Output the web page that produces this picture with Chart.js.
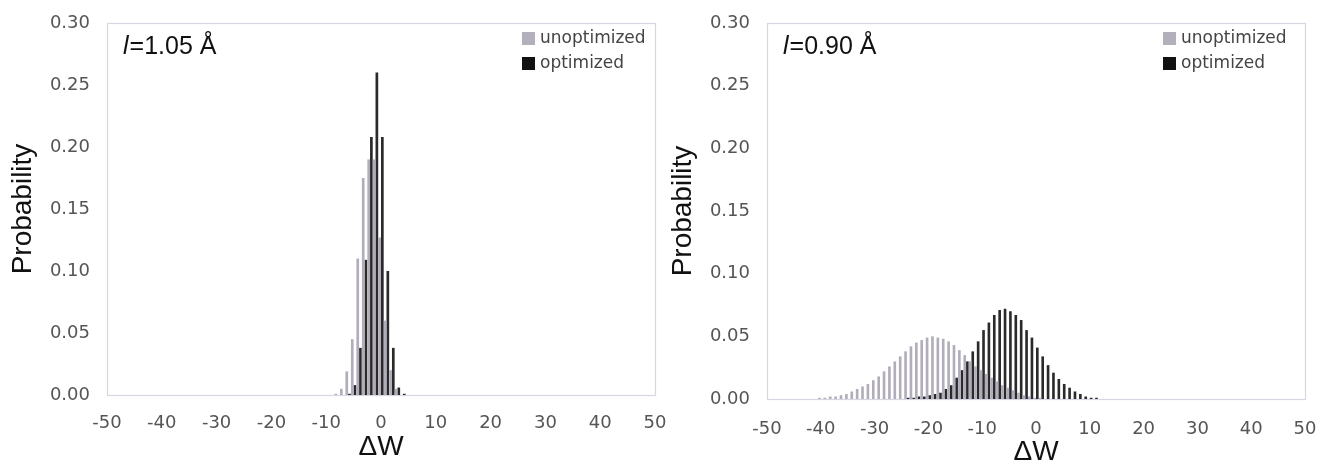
<!DOCTYPE html>
<html>
<head>
<meta charset="utf-8">
<script src="https://cdn.jsdelivr.net/npm/chart.js@4.4.1/dist/chart.umd.min.js"></script>
<style>
  body { margin: 0; background: #fff; }
  #wrap { position: relative; width: 1320px; height: 469px; overflow: hidden; background: #fff; }
  #c1 { position: absolute; left: 0; top: 0; }
  #c2 { position: absolute; left: 660px; top: 0; }
</style>
</head>
<body>
<div id="wrap">
  <canvas id="c1" width="680" height="469"></canvas>
  <canvas id="c2" width="660" height="469"></canvas>
</div>
<script>
// axis range / ticks
var xFirst = -50, xLast = 50;
var yMax = 0.30, yStep = 0.05;
var seriesNames = ['unoptimized', 'optimized'];
var panelNotes = ['=1.05 \u00C5', '=0.90 \u00C5'];

// l = 1.05 A panel, probability per 1-unit bin of dW
var leftUnoptStart = -8;
var leftUnopt = [0.001, 0.005, 0.019, 0.045, 0.110, 0.175, 0.190, 0.190, 0.127, 0.060, 0.020, 0.005];
var leftOptStart = -6;
var leftOpt = [0.001, 0.008, 0.038, 0.109, 0.208, 0.260, 0.208, 0.100, 0.038, 0.006, 0.001];

// l = 0.90 A panel
var rightUnoptStart = -40;
var rightUnopt = [0.001, 0.001, 0.002, 0.002, 0.003, 0.004, 0.006, 0.008, 0.010, 0.012,
                  0.015, 0.018, 0.022, 0.026, 0.030, 0.034, 0.038, 0.042, 0.045, 0.047,
                  0.049, 0.050, 0.049, 0.048, 0.046, 0.043, 0.039, 0.035, 0.030, 0.026,
                  0.023, 0.020, 0.017, 0.014, 0.011, 0.009, 0.007, 0.005, 0.003, 0.002,
                  0.001, 0.001];
var rightOptStart = -24;
var rightOpt = [0.001, 0.001, 0.002, 0.002, 0.003, 0.004, 0.005, 0.008, 0.011, 0.017,
                0.023, 0.030, 0.038, 0.046, 0.055, 0.061, 0.067, 0.071, 0.072, 0.070,
                0.067, 0.063, 0.055, 0.049, 0.041, 0.034, 0.027, 0.021, 0.016, 0.012,
                0.009, 0.006, 0.004, 0.002, 0.001, 0.001];

var labels = [];
for (var v = xFirst; v <= xLast; v++) labels.push(String(v));

function spread(start, vals) {
  var out = labels.map(function () { return null; });
  for (var j = 0; j < vals.length; j++) out[start - xFirst + j] = vals[j];
  return out;
}

// light frame round the plot area
var frame = {
  id: 'frame',
  beforeDatasetsDraw: function (chart) {
    var a = chart.chartArea, ctx = chart.ctx;
    ctx.save();
    ctx.strokeStyle = '#d5d8e3';
    ctx.lineWidth = 1.2;
    ctx.strokeRect(Math.round(a.left) + 0.5, Math.round(a.top) + 0.5,
                   Math.round(a.right - a.left), Math.round(a.bottom - a.top));
    ctx.restore();
  }
};

// legend boxes + "l=..." note, drawn inside the plot
var extras = {
  id: 'extras',
  afterDraw: function (chart, args, opts) {
    var ctx = chart.ctx;
    ctx.save();
    ctx.textBaseline = 'middle';
    chart.data.datasets.forEach(function (ds, i) {
      var y = opts.legY + i * 25;
      ctx.fillStyle = ds.legendColor;
      ctx.fillRect(opts.legX, y - 6, 13, 13);
      ctx.fillStyle = '#444';
      ctx.font = '17px "DejaVu Sans"';
      ctx.fillText(ds.label, opts.legX + 18, y + 1);
    });
    ctx.fillStyle = '#111';
    ctx.font = 'italic 25px "Liberation Sans"';
    ctx.fillText('l', opts.noteX, opts.noteY);
    var w = ctx.measureText('l').width;
    ctx.font = '25px "Liberation Sans"';
    ctx.fillText(opts.note, opts.noteX + w + 1, opts.noteY);
    ctx.restore();
  }
};

function makeChart(id, unopt, opt, cfg) {
  return new Chart(document.getElementById(id), {
    type: 'bar',
    data: {
      labels: labels,
      datasets: [
        { label: seriesNames[0], data: unopt, backgroundColor: '#b2adbb', legendColor: '#b3afbb' },
        { label: seriesNames[1], data: opt, backgroundColor: '#2a2a2a', legendColor: '#111' }
      ]
    },
    options: {
      responsive: false,
      animation: false,
      categoryPercentage: 0.98,
      barPercentage: 1.0,
      layout: { padding: { left: 6, top: 23, right: cfg.padRight, bottom: 0 } },
      plugins: {
        legend: { display: false },
        tooltip: { enabled: false },
        extras: { legX: cfg.legX, legY: 38, noteX: 123, noteY: 47, note: cfg.note }
      },
      scales: {
        x: {
          offset: false,
          grid: { display: false, drawTicks: false },
          border: { display: false },
          ticks: {
            autoSkip: false, maxRotation: 0, padding: cfg.xPad,
            color: '#555', font: { family: 'DejaVu Sans', size: 18 },
            callback: function (val) {
              var l = Number(this.getLabelForValue(val));
              return l % 10 === 0 ? String(l) : '';
            }
          },
          title: {
            display: true, text: '\u0394W', color: '#111',
            font: { family: 'Liberation Sans', size: 28 },
            padding: { top: 0, bottom: cfg.titlePad }
          },
          afterFit: function (s) {
            s.height = cfg.xHeight;
            s.paddingLeft = 0;
            s.paddingRight = 0;
          }
        },
        y: {
          min: 0, max: yMax,
          grid: { display: false, drawTicks: false },
          border: { display: false },
          ticks: {
            stepSize: yStep, padding: 17,
            color: '#555', font: { family: 'DejaVu Sans', size: 18 },
            callback: function (v) { return v.toFixed(2); }
          },
          title: {
            display: true, text: 'Probability', color: '#111',
            font: { family: 'Liberation Sans', size: 28 },
            padding: 0
          },
          afterFit: function (s) {
            s.width = 101;
            s.paddingTop = 0;
            s.paddingBottom = 0;
          }
        }
      }
    },
    plugins: [frame, extras]
  });
}

makeChart('c1', spread(leftUnoptStart, leftUnopt), spread(leftOptStart, leftOpt),
  { padRight: 25, xPad: 18, xHeight: 74, titlePad: 5, legX: 522, note: panelNotes[0] });
makeChart('c2', spread(rightUnoptStart, rightUnopt), spread(rightOptStart, rightOpt),
  { padRight: 15, xPad: 20, xHeight: 70, titlePad: 0, legX: 503, note: panelNotes[1] });
</script>
</body>
</html>
